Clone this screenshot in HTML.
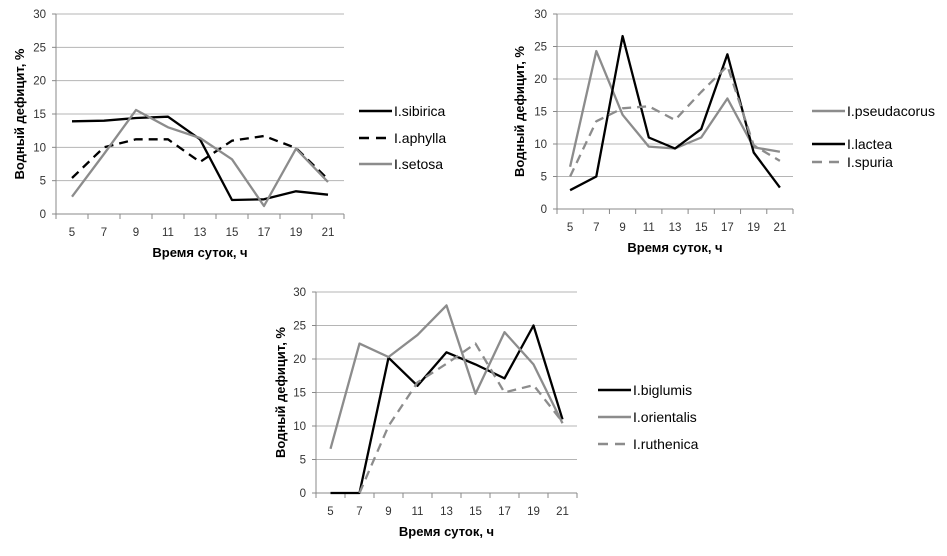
<!DOCTYPE html>
<html><head><meta charset="utf-8"><style>
html,body{margin:0;padding:0;background:#fff;}
svg{display:block;font-family:"Liberation Sans","DejaVu Sans",sans-serif;}
</style></head><body>
<svg id="s" width="947" height="556"></svg>
<script>
const hours=[5,7,9,11,13,15,17,19,21];
const yTicks=[0,5,10,15,20,25,30];
const sibirica=[13.9,14,14.4,14.6,11.2,2.1,2.2,3.4,2.9];
const aphylla=[5.4,10,11.2,11.2,7.8,11,11.7,9.9,5.2];
const setosa=[2.6,9,15.6,13,11.4,8.2,1.2,9.8,4.8];
const pseudacorus=[6.5,24.3,14.5,9.6,9.3,11,17,9.5,8.8];
const lactea=[2.9,5,26.6,11,9.3,12.3,23.8,8.7,3.3];
const spuria=[5,13.5,15.5,15.8,13.7,18,22,9.8,7.4];
const biglumis=[0,0,20.2,16,21,19.2,17.1,25,11];
const orientalis=[6.6,22.3,20.3,23.6,28,14.8,24,19.2,10.4];
const ruthenica=[null,0,10,16.5,19.3,22.3,15,16.1,10.6];
const NS="http://www.w3.org/2000/svg";
const svg=document.getElementById('s');
function el(tag,attrs,parent,text){const e=document.createElementNS(NS,tag);for(const k in attrs)e.setAttribute(k,attrs[k]);if(text!=null)e.textContent=text;(parent||svg).appendChild(e);return e;}
const BLACK={stroke:'#000',dash:null},DASH={stroke:'#000',dash:'9,6'},GRAY={stroke:'#8c8c8c',dash:null},GDASH={stroke:'#8c8c8c',dash:'9,6'};
function chart(cfg){
  const g=el('g',{});
  
  
  const band=(cfg.x1-cfg.x0)/hours.length;
  const xs=i=>cfg.x0+band*(i+0.5);
  const ys=v=>cfg.y0+(cfg.yTop-cfg.y0)*v/30;
  yTicks.forEach(t=>{
    if(t>0){const l=el('line',{x1:cfg.x0,x2:cfg.x1,y1:ys(t),y2:ys(t),stroke:'#b5b5b5','stroke-width':1},g);
    }
    const tx=el('text',{x:cfg.x0-10,y:ys(t)+4,'text-anchor':'end','font-size':11.5,fill:'#333'},g,t);
    
    el('line',{x1:cfg.x0-4,x2:cfg.x0,y1:ys(t),y2:ys(t),stroke:'#888'},g);
  });
  const ya=el('line',{x1:cfg.x0,x2:cfg.x0,y1:ys(30),y2:ys(0),stroke:'#888'},g);
  
  const xa=el('line',{x1:cfg.x0,x2:cfg.x1,y1:ys(0),y2:ys(0),stroke:'#888'},g);
  
  for(let i=0;i<=hours.length;i++)el('line',{x1:cfg.x0+band*i,x2:cfg.x0+band*i,y1:ys(0),y2:ys(0)+5,stroke:'#888'},g);
  hours.forEach((h,i)=>{const t=el('text',{x:xs(i),y:ys(0)+22,'text-anchor':'middle','font-size':11.5,fill:'#333'},g,h);
    });
  const xt=el('text',{x:(cfg.x0+cfg.x1)/2,y:ys(0)+43,'text-anchor':'middle','font-size':13,'font-weight':'bold'},g,'Время суток, ч');
  
  const cy=(ys(0)+ys(30))/2;
  const yt=el('text',{x:cfg.yTitleX,y:cy,'text-anchor':'middle','font-size':13,'font-weight':'bold',transform:`rotate(-90 ${cfg.yTitleX} ${cy})`},g,'Водный дефицит, %');
  
  cfg.series.forEach((s,k)=>{
    let d='',pen=false;
    s.data.forEach((v,i)=>{if(v==null){pen=false;return;}d+=(pen?'L':'M')+xs(i).toFixed(1)+','+ys(v).toFixed(1);pen=true;});
    const p=el('path',{d:d,fill:'none',stroke:s.st.stroke,'stroke-width':2.3,'stroke-linejoin':'round'},g);
    if(s.st.dash)p.setAttribute('stroke-dasharray',s.st.dash);
    
    
    const ly=cfg.legY[k];
    const lg=el('g',{},g);
    
    
    const ll=el('line',{x1:cfg.legX,x2:cfg.legX+33,y1:ly,y2:ly,stroke:s.st.stroke,'stroke-width':2.5},lg);
    if(s.st.dash)ll.setAttribute('stroke-dasharray','10,7');
    el('text',{x:cfg.legX+35,y:ly+5,'font-size':14},lg,s.label);
  });
}
chart({name:'chart-top-left',x0:56,x1:344,yTop:14,y0:214,yTitleX:24,legX:359,legY:[111,138,164],
  series:[{label:'I.sibirica',data:sibirica,st:BLACK},{label:'I.aphylla',data:aphylla,st:DASH},{label:'I.setosa',data:setosa,st:GRAY}]});
chart({name:'chart-top-right',x0:557,x1:793,yTop:14,y0:209,yTitleX:524,legX:812,legY:[111,144,162],
  series:[{label:'I.pseudacorus',data:pseudacorus,st:GRAY},{label:'I.lactea',data:lactea,st:BLACK},{label:'I.spuria',data:spuria,st:GDASH}]});
chart({name:'chart-bottom',x0:316,x1:577,yTop:292,y0:493,yTitleX:285,legX:598,legY:[390,417,444],
  series:[{label:'I.biglumis',data:biglumis,st:BLACK},{label:'I.orientalis',data:orientalis,st:GRAY},{label:'I.ruthenica',data:ruthenica,st:GDASH}]});
</script>
</body></html>
